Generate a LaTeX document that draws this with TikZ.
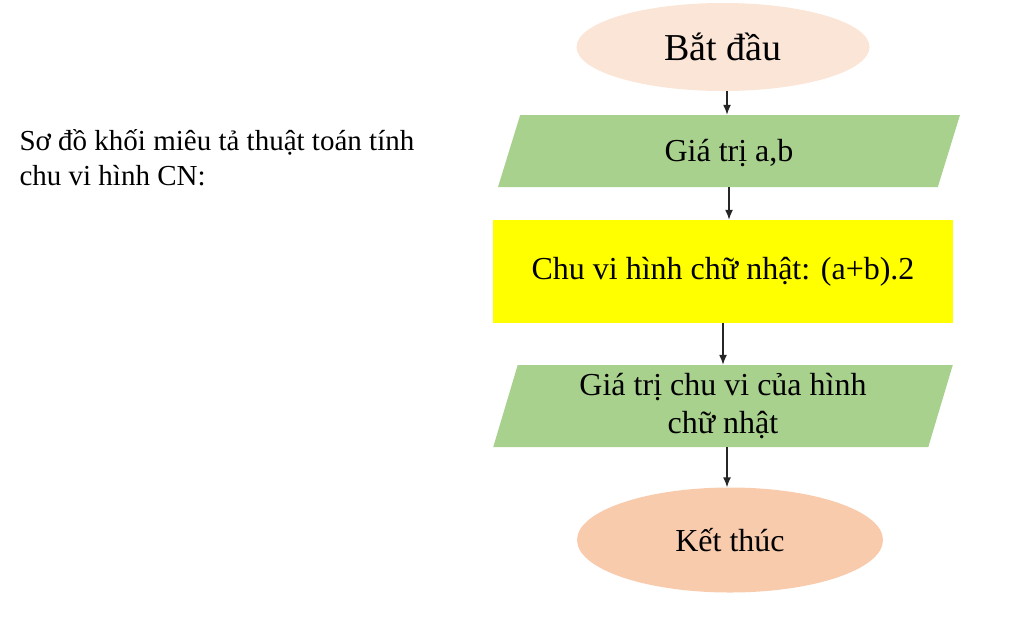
\documentclass[tikz,border=0pt]{standalone}
\usepackage{fontspec}
\setmainfont{Liberation Serif}
\usetikzlibrary{shapes.geometric, arrows.meta}
\definecolor{startfill}{HTML}{FBE5D6}
\definecolor{endfill}{HTML}{F8CBAD}
\definecolor{iofill}{HTML}{A9D18E}
\definecolor{procfill}{HTML}{FFFF00}
\begin{document}
\begin{tikzpicture}[
    x=1pt, y=-1pt,
    terminal/.style={ellipse, fill=#1, inner sep=0pt, font=\fontsize{32}{38}\selectfont},
    io/.style={trapezium, trapezium left angle=76, trapezium right angle=104,
        trapezium stretches=true, fill=iofill, inner sep=2pt, minimum height=72pt,
        minimum width=462pt, align=center, font=\fontsize{32}{38}\selectfont},
    process/.style={rectangle, fill=procfill, minimum width=460pt, minimum height=103pt,
        font=\fontsize{32}{38}\selectfont},
    arrow/.style={draw=black!85, line width=1.4pt, -{Latex[length=10pt, width=8pt]}}
]
\useasboundingbox (0,0) rectangle (1024,635);

% Mô tả
\node[anchor=north west, align=left, font=\fontsize{29}{35}\selectfont] (desc) at (16,126)
    {Sơ đồ khối miêu tả thuật toán tính\\chu vi hình CN:};

% Bắt đầu
\node[terminal=startfill, minimum width=293pt, minimum height=88pt,
    font=\fontsize{38}{44}\selectfont] (start) at (723,47) {Bắt đầu};

% Nhập
\node[io, text depth=2pt] (input) at (729,151) {Giá trị a,b};

% Xử lý
\node[process] (calc) at (723,271.5) {Chu vi hình chữ nhật: (a+b).2};

% Xuất
\node[io, minimum height=82pt, minimum width=460pt] (output) at (723,406)
    {Giá trị chu vi của hình\\chữ nhật};

% Kết thúc
\node[terminal=endfill, minimum width=306pt, minimum height=105pt] (stop) at (730,540) {Kết thúc};

% Mũi tên
\draw[arrow] (727,0 |- start.south) -- (727,0 |- input.north);
\draw[arrow] (input.south) -- (input.south |- calc.north);
\draw[arrow] (calc.south) -- (calc.south |- output.north);
\draw[arrow] (727,0 |- output.south) -- (727,0 |- stop.north);
\end{tikzpicture}
\end{document}
